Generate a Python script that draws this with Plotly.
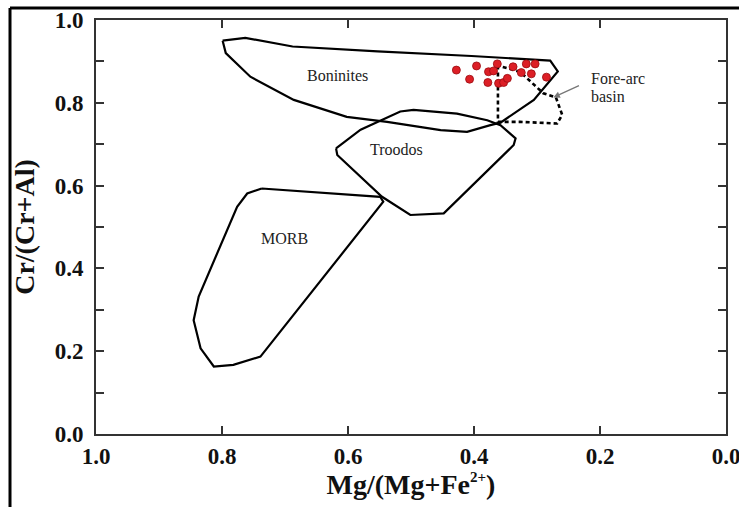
import plotly.graph_objects as go

# ---- data ----
boninites_x = [0.799, 0.763, 0.688, 0.553, 0.404, 0.279, 0.267, 0.305, 0.358, 0.374, 0.411, 0.453,
               0.538, 0.602, 0.686, 0.755, 0.794, 0.799]
boninites_y = [0.950, 0.957, 0.936, 0.924, 0.913, 0.902, 0.876, 0.807, 0.752, 0.746, 0.730, 0.734,
               0.754, 0.766, 0.807, 0.863, 0.920, 0.950]

troodos_x = [0.619, 0.580, 0.517, 0.496, 0.427, 0.379, 0.358, 0.334, 0.337, 0.448, 0.501, 0.546, 0.617, 0.619]
troodos_y = [0.690, 0.735, 0.779, 0.783, 0.774, 0.758, 0.746, 0.714, 0.698, 0.533, 0.529, 0.573, 0.674, 0.690]

morb_x = [0.737, 0.549, 0.544, 0.739, 0.782, 0.813, 0.834, 0.845, 0.837, 0.776, 0.760, 0.737]
morb_y = [0.593, 0.573, 0.561, 0.187, 0.167, 0.163, 0.207, 0.275, 0.332, 0.549, 0.581, 0.593]

forearc_x = [0.362, 0.362, 0.327, 0.268, 0.260, 0.270, 0.290, 0.327, 0.362]
forearc_y = [0.890, 0.754, 0.754, 0.750, 0.771, 0.813, 0.823, 0.875, 0.890]

sample_x = [0.428, 0.396, 0.407, 0.363, 0.377, 0.369, 0.378, 0.361, 0.353, 0.347,
            0.338, 0.325, 0.317, 0.303, 0.309, 0.285]
sample_y = [0.879, 0.889, 0.857, 0.894, 0.875, 0.877, 0.849, 0.847, 0.849, 0.859,
            0.887, 0.873, 0.894, 0.894, 0.870, 0.862]

labels = ["Boninites", "Troodos", "MORB"]
label_x = [0.616, 0.523, 0.701]
label_y = [0.867, 0.688, 0.473]

x_ticks = [1.0, 0.8, 0.6, 0.4, 0.2, 0.0]
y_ticks = [0.0, 0.2, 0.4, 0.6, 0.8, 1.0]

SERIF = "Liberation Serif"

fig = go.Figure()
for xs, ys in [(boninites_x, boninites_y), (troodos_x, troodos_y), (morb_x, morb_y)]:
    fig.add_trace(go.Scatter(x=xs, y=ys, mode="lines",
                             line=dict(color="black", width=2.2), hoverinfo="skip"))
fig.add_trace(go.Scatter(x=forearc_x, y=forearc_y, mode="lines",
                         line=dict(color="black", width=2.6, dash="4px,3px"), hoverinfo="skip"))
fig.add_trace(go.Scatter(x=sample_x, y=sample_y, mode="markers",
                         marker=dict(color="#dc1f26", size=8,
                                     line=dict(color="#9a0b10", width=0.8))))

for t, lx, ly in zip(labels, label_x, label_y):
    fig.add_annotation(x=lx, y=ly, text=t, showarrow=False,
                       font=dict(family=SERIF, size=16, color="#222"))
fig.add_annotation(x=0.217, y=0.859, text="Fore-arc", showarrow=False, xanchor="left",
                   font=dict(family=SERIF, size=16, color="#222"))
fig.add_annotation(x=0.217, y=0.815, text="basin", showarrow=False, xanchor="left",
                   font=dict(family=SERIF, size=16, color="#222"))
fig.add_annotation(x=0.274, y=0.813, ax=0.231, ay=0.843, axref="x", ayref="y",
                   showarrow=True, arrowhead=2, arrowsize=1, arrowwidth=1.3,
                   arrowcolor="#777", text="")

axis_common = dict(showgrid=False, zeroline=False, showline=True, linecolor="#333",
                   linewidth=2, mirror="ticks", ticks="inside", ticklen=8, tickwidth=2,
                   tickcolor="#333", automargin=False, ticklabeloverflow="allow",
                   tickfont=dict(family=SERIF, size=23, color="#111", weight="bold"))
fig.update_xaxes(range=[1.0, 0.0], tickvals=x_ticks, ticktext=[f"{v:.1f}" for v in x_ticks],
                 ticklabelstandoff=0,
                 title=dict(text="<b>Mg/(Mg+Fe<sup><span style='font-size:15px'>2+</span></sup>)</b>",
                            standoff=4,
                            font=dict(family=SERIF, size=28, color="#111")),
                 **axis_common)
fig.update_yaxes(range=[0.0, 1.0], tickvals=y_ticks, ticktext=[f"{v:.1f}" for v in y_ticks],
                 ticklabelstandoff=6,
                 minor=dict(dtick=0.1, tick0=0, ticks="inside", ticklen=8, tickwidth=2,
                            tickcolor="#333"),
                 title=dict(text="<b>Cr/(Cr+Al)</b>", standoff=12,
                            font=dict(family=SERIF, size=28, color="#111")),
                 **axis_common)

# outer frame of the picture (left and top edges)
fig.add_shape(type="line", xref="paper", yref="paper", x0=-0.1365, x1=-0.1365, y0=1.029, y1=-0.18,
              line=dict(color="black", width=3))
fig.add_shape(type="line", xref="paper", yref="paper", x0=-0.1365, x1=1.03, y0=1.029, y1=1.029,
              line=dict(color="black", width=3))

fig.update_layout(width=739, height=507, showlegend=False,
                  margin=dict(l=96, r=13, t=20, b=73),
                  plot_bgcolor="white", paper_bgcolor="white")

fig.write_html("out.html", config={"displayModeBar": False},
               post_script="document.body.style.margin='0px';document.body.style.overflow='hidden';")
